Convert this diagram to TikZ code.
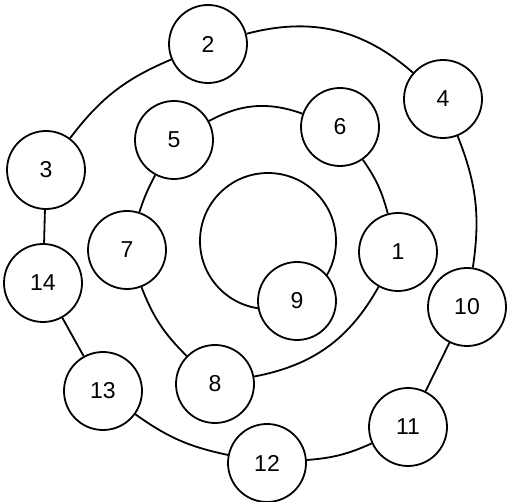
\documentclass[tikz,border=0pt]{standalone}
\usepackage{fontspec}
\setmainfont{Liberation Sans}
\begin{document}
\begin{tikzpicture}[x=1pt,y=1pt,
  nd/.style={circle,draw,fill=white,line width=1.8pt,minimum size=78pt,inner sep=0pt,
    font=\fontsize{23}{27}\selectfont},
  ln/.style={line width=1.8pt}]
\useasboundingbox (0,0) rectangle (508,502);
% inner circle
\draw[ln] (268,261) circle (68);
% nodes
\node[nd] (n1) at (398,250) {1};
\node[nd] (n2) at (208,458) {2};
\node[nd] (n3) at (46,332) {3};
\node[nd] (n4) at (443,403) {4};
\node[nd] (n5) at (174,362) {5};
\node[nd] (n6) at (340,375) {6};
\node[nd] (n7) at (127,252) {7};
\node[nd] (n8) at (215,118) {8};
\node[nd] (n9) at (297,201) {9};
\node[nd] (n10) at (467,195) {10};
\node[nd] (n11) at (408,75) {11};
\node[nd] (n12) at (267,39) {12};
\node[nd] (n13) at (103,111) {13};
\node[nd] (n14) at (43,219) {14};
% outer ring
\draw[ln] (n2) to[bend left=28] (n4);
\draw[ln] (n4) to[bend left=15] (n10);
\draw[ln] (n10) -- (n11);
\draw[ln] (n11) to[bend left=10] (n12);
\draw[ln] (n12) to[bend left=12] (n13);
\draw[ln] (n13) -- (n14);
\draw[ln] (n14) -- (n3);
\draw[ln] (n3) to[bend left=15] (n2);
% middle ring
\draw[ln] (n5) to[bend left=24] (n6);
\draw[ln] (n6) to[bend left=10] (n1);
\draw[ln] (n1) to[bend left=25] (n8);
\draw[ln] (n8) to[bend left=12] (n7);
\draw[ln] (n7) to[bend left=5] (n5);
\end{tikzpicture}
\end{document}
